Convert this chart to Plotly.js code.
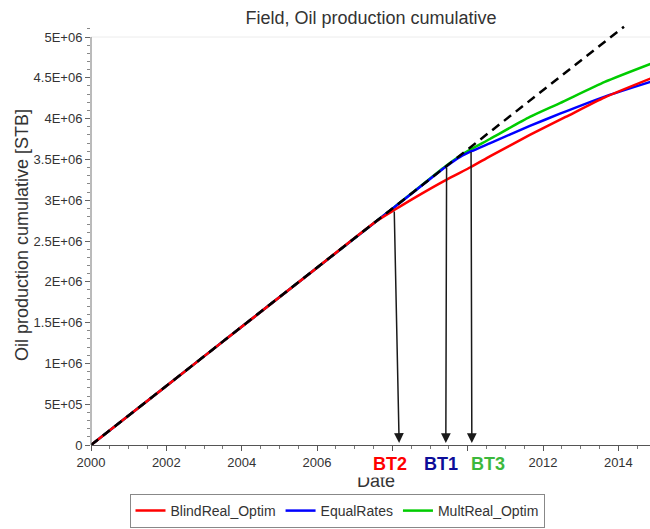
<!DOCTYPE html>
<html>
<head>
<meta charset="utf-8">
<script src="https://cdn.plot.ly/plotly-3.0.1.min.js"></script>
<style>
  html, body { margin: 0; padding: 0; background: #fff; }
  #chart { width: 650px; height: 529px; }
</style>
</head>
<body>
<div id="chart"></div>
<script>
// ---- data ----
var trendX = [2000, 2014.15];
var trendY = [0, 5.126e6];

var blindX = [2000, 2002, 2004, 2006, 2007.6, 2008.05, 2008.7, 2009.43, 2010.1, 2010.6, 2011.65, 2012.6, 2013.64, 2014.85];
var blindY = [0, 0.724e6, 1.448e6, 2.172e6, 2.75e6, 2.88e6, 3.06e6, 3.25e6, 3.41e6, 3.54e6, 3.80e6, 4.02e6, 4.26e6, 4.49e6];

var equalX = [2000, 2002, 2004, 2006, 2008, 2009.0, 2009.42, 2009.8, 2010.1, 2010.6, 2011.65, 2012.45, 2013.64, 2014.85];
var equalY = [0, 0.724e6, 1.448e6, 2.172e6, 2.896e6, 3.26e6, 3.41e6, 3.53e6, 3.60e6, 3.70e6, 3.91e6, 4.06e6, 4.27e6, 4.45e6];

var multX = [2000, 2002, 2004, 2006, 2008, 2009.42, 2009.8, 2010.09, 2010.59, 2011.65, 2012.45, 2013.64, 2014.85];
var multY = [0, 0.724e6, 1.448e6, 2.172e6, 2.896e6, 3.42e6, 3.545e6, 3.625e6, 3.75e6, 4.02e6, 4.19e6, 4.45e6, 4.67e6];

var seriesNames = ['BlindReal_Optim', 'EqualRates', 'MultReal_Optim'];

var btLabels = ['BT2', 'BT1', 'BT3'];
var btTailX = [2008.05, 2009.44, 2010.09];
var btTailY = [2.88e6, 3.42e6, 3.61e6];
var btTipX  = [2008.18, 2009.42, 2010.11];

var yTickVals = [0, 5e5, 1e6, 1.5e6, 2e6, 2.5e6, 3e6, 3.5e6, 4e6, 4.5e6, 5e6];
var yTickText = ['0', '5E+05', '1E+06', '1.5E+06', '2E+06', '2.5E+06', '3E+06', '3.5E+06', '4E+06', '4.5E+06', '5E+06'];
var xTickVals = [2000, 2002, 2004, 2006, 2008, 2010, 2012, 2014];
var xTickText = ['2000', '2002', '2004', '2006', '', '', '2012', '2014'];

var xTitle = 'Date';
var yTitle = 'Oil production cumulative [STB]';
var chartTitle = 'Field, Oil production cumulative';

// ---- styling ----
var FONT = 'Liberation Sans, Arial, sans-serif';
var btColors = ['#ff0000', '#0d0d99', '#3cb83c'];
var btLabelX = [2007.94, 2009.29, 2010.54];

var traces = [
  {x: multX, y: multY, name: seriesNames[2], type: 'scatter', mode: 'lines',
   line: {color: '#00cc00', width: 2.5, shape: 'spline', smoothing: 0.6}, legendrank: 3},
  {x: equalX, y: equalY, name: seriesNames[1], type: 'scatter', mode: 'lines',
   line: {color: '#0000ff', width: 2.5, shape: 'spline', smoothing: 0.6}, legendrank: 2},
  {x: blindX, y: blindY, name: seriesNames[0], type: 'scatter', mode: 'lines',
   line: {color: '#ff0000', width: 2.5, shape: 'spline', smoothing: 0.6}, legendrank: 1},
  {x: trendX, y: trendY, name: 'trend', type: 'scatter', mode: 'lines',
   line: {color: '#000000', width: 2.5, dash: '9px,6px'}, showlegend: false}
];

var annotations = [];
for (var i = 0; i < btLabels.length; i++) {
  annotations.push({
    x: btTipX[i], y: 2.5e4, xref: 'x', yref: 'y',
    ax: btTailX[i], ay: btTailY[i], axref: 'x', ayref: 'y',
    text: '', showarrow: true, arrowhead: 2, arrowsize: 1.3, arrowwidth: 1.5,
    arrowcolor: '#1a1a1a', standoff: 0, startstandoff: 0
  });
}
// x axis title (drawn as annotation so it can sit under the BT labels' white box)
annotations.push({
  xref: 'paper', yref: 'paper', x: (376 - 91) / 559, y: -(481 - 445) / 420,
  xanchor: 'center', yanchor: 'middle', text: xTitle, showarrow: false,
  font: {family: FONT, size: 18, color: '#333333'}
});
// white box that hides the top of the axis title
annotations.push({
  xref: 'paper', yref: 'paper', x: (376 - 91) / 559, y: -(471 - 445) / 420,
  xanchor: 'center', yanchor: 'middle', text: ' ', showarrow: false,
  bgcolor: '#ffffff', width: 56, height: 12, borderpad: 0, font: {size: 6}
});
for (var j = 0; j < btLabels.length; j++) {
  annotations.push({
    x: btLabelX[j], xref: 'x', y: -(464 - 445) / 420, yref: 'paper',
    xanchor: 'center', yanchor: 'middle', showarrow: false,
    text: '<b>' + btLabels[j] + '</b>',
    font: {family: FONT, size: 18, color: btColors[j]}
  });
}

var layout = {
  width: 650, height: 529,
  margin: {l: 91, r: 0, t: 25, b: 84, pad: 0},
  paper_bgcolor: '#ffffff', plot_bgcolor: '#ffffff',
  font: {family: FONT, size: 13, color: '#333333'},
  title: {text: chartTitle, x: 371 / 650, xanchor: 'center',
          y: 1 - 18 / 529, yanchor: 'middle', font: {family: FONT, size: 18, color: '#333333'}},
  xaxis: {
    range: [2000, 2014.84], tickvals: xTickVals, ticktext: xTickText,
    ticks: 'outside', ticklen: 5, tickwidth: 1, tickcolor: '#555',
    minor: {dtick: 0.5, tick0: 2000, ticks: 'outside', ticklen: 3, tickcolor: '#777', showgrid: false},
    showline: true, linecolor: '#555', linewidth: 1, showgrid: false, zeroline: false,
    tickfont: {family: FONT, size: 13, color: '#333'}
  },
  yaxis: {
    range: [0, 5.147e6], tickvals: yTickVals, ticktext: yTickText,
    ticks: 'outside', ticklen: 5, tickwidth: 1, tickcolor: '#666',
    minor: {dtick: 1e5, tick0: 0, ticks: 'outside', ticklen: 3, tickcolor: '#888', showgrid: false},
    showline: false, showgrid: false, zeroline: false,
    tickfont: {family: FONT, size: 13, color: '#333'},
    title: {text: yTitle, standoff: 0, font: {family: FONT, size: 18, color: '#333'}}
  },
  shapes: [
    {type: 'line', xref: 'paper', yref: 'y', x0: 0, x1: 0, y0: 0, y1: 5e6,
     line: {color: '#777', width: 1}, layer: 'above'},
    {type: 'line', xref: 'paper', yref: 'y', x0: 0, x1: 1, y0: 5e6, y1: 5e6,
     line: {color: '#ececec', width: 1}, layer: 'below'}
  ],
  showlegend: true,
  legend: {
    orientation: 'h', xref: 'container', yref: 'container',
    x: 337 / 650, xanchor: 'center', y: 1 / 529, yanchor: 'bottom',
    bordercolor: '#888', borderwidth: 1, bgcolor: '#fff',
    font: {family: FONT, size: 14, color: '#333'}, traceorder: 'normal',
    itemwidth: 30
  },
  annotations: annotations
};

Plotly.newPlot('chart', traces, layout, {displayModeBar: false, staticPlot: true});
</script>
</body>
</html>
